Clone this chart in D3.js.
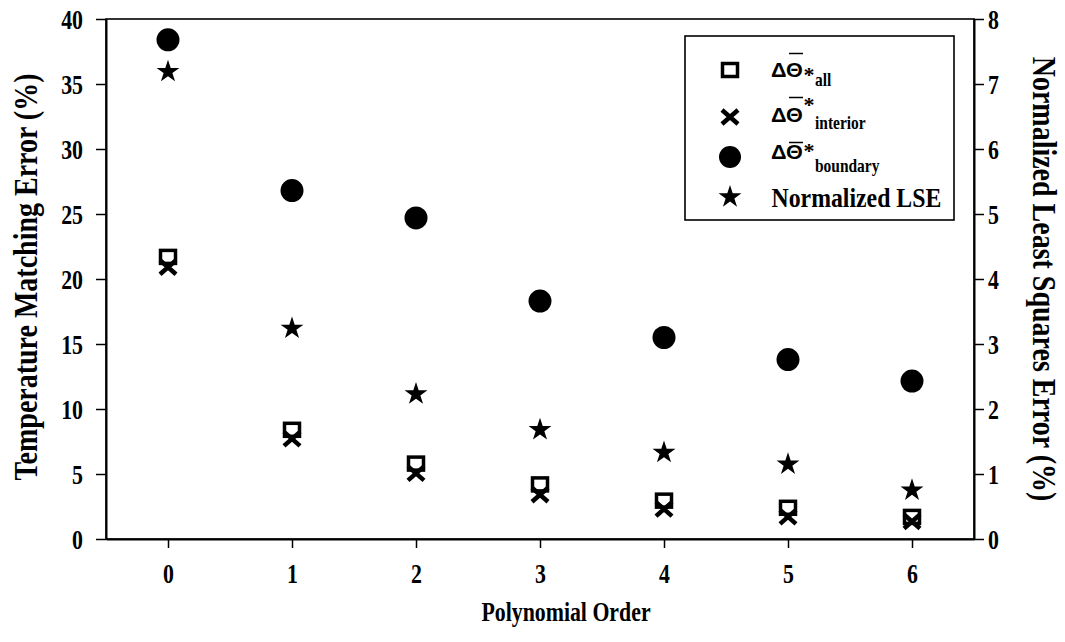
<!DOCTYPE html>
<html><head><meta charset="utf-8">
<script src="https://cdn.jsdelivr.net/npm/d3@7"></script>
<style>
body{margin:0;background:#fff}
text{font-family:"Liberation Serif","Times New Roman",serif;font-weight:bold;fill:#000;font-size:28px}
</style>
</head><body><svg id="c" width="1065" height="642"></svg>
<script>
// ---- data ----
const orders = [0, 1, 2, 3, 4, 5, 6];
const errAll = [21.7, 8.4, 5.8, 4.2, 2.95, 2.4, 1.7];
const errInterior = [20.9, 7.7, 5.05, 3.4, 2.3, 1.7, 1.35];
const errBoundary = [38.4, 26.8, 24.7, 18.3, 15.5, 13.8, 12.15];
const lse = [7.19, 3.24, 2.23, 1.68, 1.33, 1.15, 0.75];
const leftTicks = [0, 5, 10, 15, 20, 25, 30, 35, 40];
const rightTicks = [0, 1, 2, 3, 4, 5, 6, 7, 8];
const xTicks = [0, 1, 2, 3, 4, 5, 6];
const subLabels = ["all", "interior", "boundary"];
const lseLabel = "Normalized LSE";
const xTitle = "Polynomial Order";
const yTitle = "Temperature Matching Error (%)";
const y2Title = "Normalized Least Squares Error (%)";

// ---- layout ----
const svg = d3.select("#c");
const L = 106, R = 974, T = 19, B = 539;
const SX = 0.78;
const x = d3.scaleLinear().domain([-0.5, 6.5]).range([L, R]);
const y = d3.scaleLinear().domain([0, 40]).range([B, T]);
const y2 = d3.scaleLinear().domain([0, 8]).range([B, T]);
const fmt = d3.format("d");

// frame
svg.append("rect").attr("x", L).attr("y", T).attr("width", R - L).attr("height", B - T)
  .attr("fill", "none").attr("stroke", "#000").attr("stroke-width", 1.6);

function styleAxis(g) {
  g.select(".domain").attr("stroke-width", 2);
  g.selectAll(".tick line").attr("stroke-width", 1.5);
}
const gl = svg.append("g").attr("transform", `translate(${L},0)`)
  .call(d3.axisLeft(y).tickValues(leftTicks).tickFormat(fmt).tickSize(10).tickSizeOuter(0));
styleAxis(gl);
gl.selectAll(".tick text").attr("x", -23 / SX).attr("dy", "0.34em").attr("transform", `scale(${SX},1)`);

const gr = svg.append("g").attr("transform", `translate(${R},0)`)
  .call(d3.axisRight(y2).tickValues(rightTicks).tickFormat(fmt).tickSize(10).tickSizeOuter(0));
styleAxis(gr);
gr.selectAll(".tick text").attr("x", 14 / SX).attr("dy", "0.34em").attr("transform", `scale(${SX},1)`);

const gb = svg.append("g").attr("transform", `translate(0,${B})`)
  .call(d3.axisBottom(x).tickValues(xTicks).tickFormat(fmt).tickSize(9).tickSizeOuter(0));
styleAxis(gb);
gb.selectAll(".tick text").attr("y", 44).attr("dy", 0).attr("transform", `scale(${SX},1)`);

// titles
svg.append("text").attr("transform", `translate(566,621) scale(${SX},1)`)
  .attr("text-anchor", "middle").text(xTitle);
svg.append("text").attr("transform", `translate(37,277) rotate(-90) scale(1,1.2)`)
  .attr("text-anchor", "middle").text(yTitle);
svg.append("text").attr("transform", `translate(1033,279) rotate(90) scale(1,1.2)`)
  .attr("text-anchor", "middle").text(y2Title);

// ---- marks ----
const starSym = d3.symbol(d3.symbolStar, 162);
const crossPath = "M-8,-7L8,7M-8,7L8,-7";

svg.append("g").selectAll("rect").data(orders).join("rect")
  .attr("x", d => x(d) - 7.5).attr("y", (d, i) => y(errAll[i]) - 6.5)
  .attr("width", 15).attr("height", 13)
  .attr("fill", "#fff").attr("stroke", "#000").attr("stroke-width", 3.5);

svg.append("g").selectAll("path").data(orders).join("path")
  .attr("d", crossPath)
  .attr("transform", (d, i) => `translate(${x(d)},${y(errInterior[i])})`)
  .attr("fill", "none").attr("stroke", "#000").attr("stroke-width", 4.5);

svg.append("g").selectAll("circle").data(orders).join("circle")
  .attr("cx", d => x(d)).attr("cy", (d, i) => y(errBoundary[i])).attr("r", 11.5)
  .attr("fill", "#000");

svg.append("g").selectAll("path").data(orders).join("path")
  .attr("d", starSym)
  .attr("transform", (d, i) => `translate(${x(d)},${y2(lse[i])})`)
  .attr("fill", "#000");

// ---- legend ----
const lg = svg.append("g");
lg.append("rect").attr("x", 685).attr("y", 36).attr("width", 269).attr("height", 184)
  .attr("fill", "#fff").attr("stroke", "#000").attr("stroke-width", 1.6);
const symX = 730;
const rowsY = [70, 117, 157, 197];
lg.append("rect").attr("x", symX - 7.5).attr("y", rowsY[0] - 6.5).attr("width", 15).attr("height", 13)
  .attr("fill", "#fff").attr("stroke", "#000").attr("stroke-width", 3.5);
lg.append("path").attr("d", crossPath).attr("transform", `translate(${symX},${rowsY[1]})`)
  .attr("fill", "none").attr("stroke", "#000").attr("stroke-width", 4.5);
lg.append("circle").attr("cx", symX).attr("cy", rowsY[2]).attr("r", 11).attr("fill", "#000");
lg.append("path").attr("d", starSym).attr("transform", `translate(${symX},${rowsY[3]})`).attr("fill", "#000");

const greekBase = [77, 122, 159];
const overY = [53.5, 97.5, 142.5];
const astBase = [82, 112, 158];
const subBase = [86, 129, 172];
subLabels.forEach((s, i) => {
  lg.append("text").attr("transform", `translate(771,${greekBase[i]}) scale(1.08,1)`)
    .style("font-family", "'Liberation Sans',Arial,sans-serif").style("font-size", "20px")
    .text("ΔΘ");
  lg.append("line").attr("x1", 789).attr("x2", 803).attr("y1", overY[i]).attr("y2", overY[i])
    .attr("stroke", "#000").attr("stroke-width", 1.5);
  lg.append("text").attr("transform", `translate(803.5,${astBase[i]})`)
    .style("font-size", "22px").text("*");
  lg.append("text").attr("transform", `translate(815,${subBase[i]}) scale(0.86,1)`)
    .style("font-size", "18px").text(s);
});
lg.append("text").attr("transform", `translate(771.5,206.7) scale(0.85,1)`).text(lseLabel);
</script>
</body></html>
